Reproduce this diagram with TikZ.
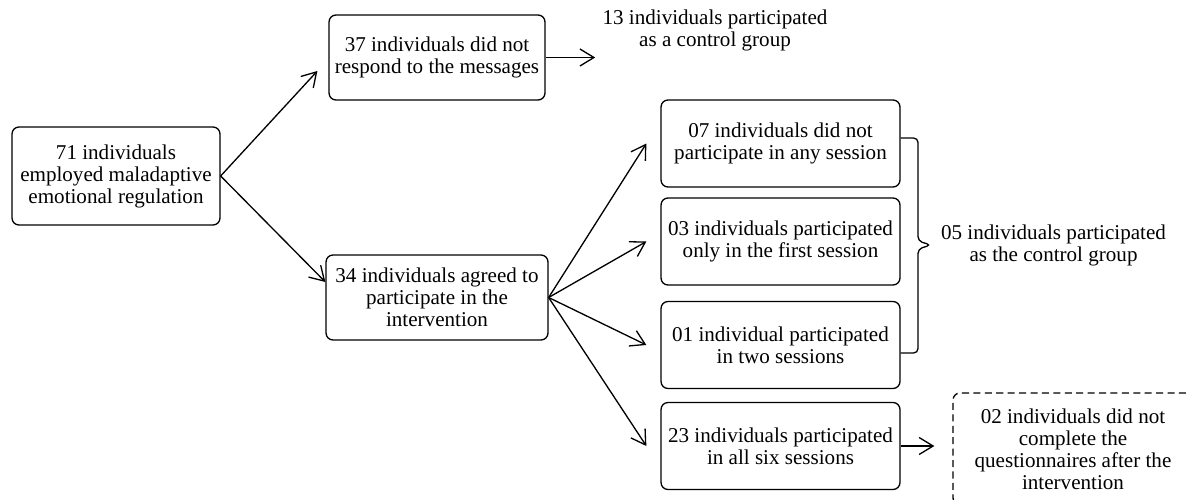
\documentclass[tikz,border=0pt]{standalone}
\usepackage{fontspec}
\setmainfont{Liberation Serif}
\usetikzlibrary{arrows.meta}
\begin{document}
\begin{tikzpicture}[x=0.02cm,y=-0.02cm,
	box/.style={draw,line width=0.75pt,rounded corners=0.14cm,align=center,inner sep=2pt,font=\fontsize{12}{12.5}\selectfont},
	plain/.style={align=center,inner sep=1pt,font=\fontsize{12}{12.5}\selectfont},
	arr/.style={line width=0.75pt,-{Straight Barb[length=2.8mm,width=3.4mm]}}]
		\path[use as bounding box](0,0)rectangle(1186,500);
		\clip(0,0)rectangle(1186,500);
		\node[box,minimum width=4.16cm,minimum height=1.96cm](start)at(116,176){71 individuals\\employed maladaptive\\emotional regulation};
		\node[box,minimum width=4.32cm,minimum height=1.7cm](noresp)at(437,57.5){37 individuals did not\\respond to the messages};
		\node[plain](ctrlA)at(715,30){13 individuals participated\\as a control group};
		\node[box,minimum width=4.44cm,minimum height=1.7cm](agreed)at(437,297.5){34 individuals agreed to\\participate in the\\intervention};
		\node[box,minimum width=4.78cm,minimum height=1.74cm](nosess)at(780.5,143.5){07 individuals did not\\participate in any session};
		\node[box,minimum width=4.78cm,minimum height=1.74cm](onesess)at(780.5,241.5){03 individuals participated\\only in the first session};
		\node[box,minimum width=4.78cm,minimum height=1.74cm](twosess)at(780.5,345){01 individual participated\\in two sessions};
		\node[box,minimum width=4.78cm,minimum height=1.74cm](allsess)at(780.5,446){23 individuals participated\\in all six sessions};
		\node[box,dash pattern=on 4pt off 2.5pt,minimum width=4.8cm,minimum height=2.24cm](noquest)at(1073,449){02 individuals did not\\complete the\\questionnaires after the\\intervention};
		\coordinate(brtip)at(931,245);
		\node[plain,anchor=west](ctrlB)at([xshift=0.16cm]brtip){05 individuals participated\\as the control group};
		\draw[arr](start.east)--([xshift=-0.22cm,yshift=-0.27cm]noresp.west);
		\draw[arr](start.east)--([yshift=0.31cm]agreed.west);
		\draw[arr,shorten >=3pt](noresp.east)--(noresp.east-|ctrlA.west);
		\foreach \n in {nosess,onesess,twosess,allsess}
			\draw[arr](agreed.east)--([xshift=-0.28cm]\n.west);
		\draw[arr,shorten >=0.36cm](allsess.east)--(allsess.east-|noquest.west);
		\draw[line width=0.75pt,rounded corners=2.5pt]([yshift=0.11cm]nosess.east)-|([xshift=-0.26cm,yshift=0.08cm]brtip)--(brtip)--([xshift=-0.26cm,yshift=-0.08cm]brtip)|-([yshift=-0.16cm]twosess.east);
\end{tikzpicture}
\end{document}
